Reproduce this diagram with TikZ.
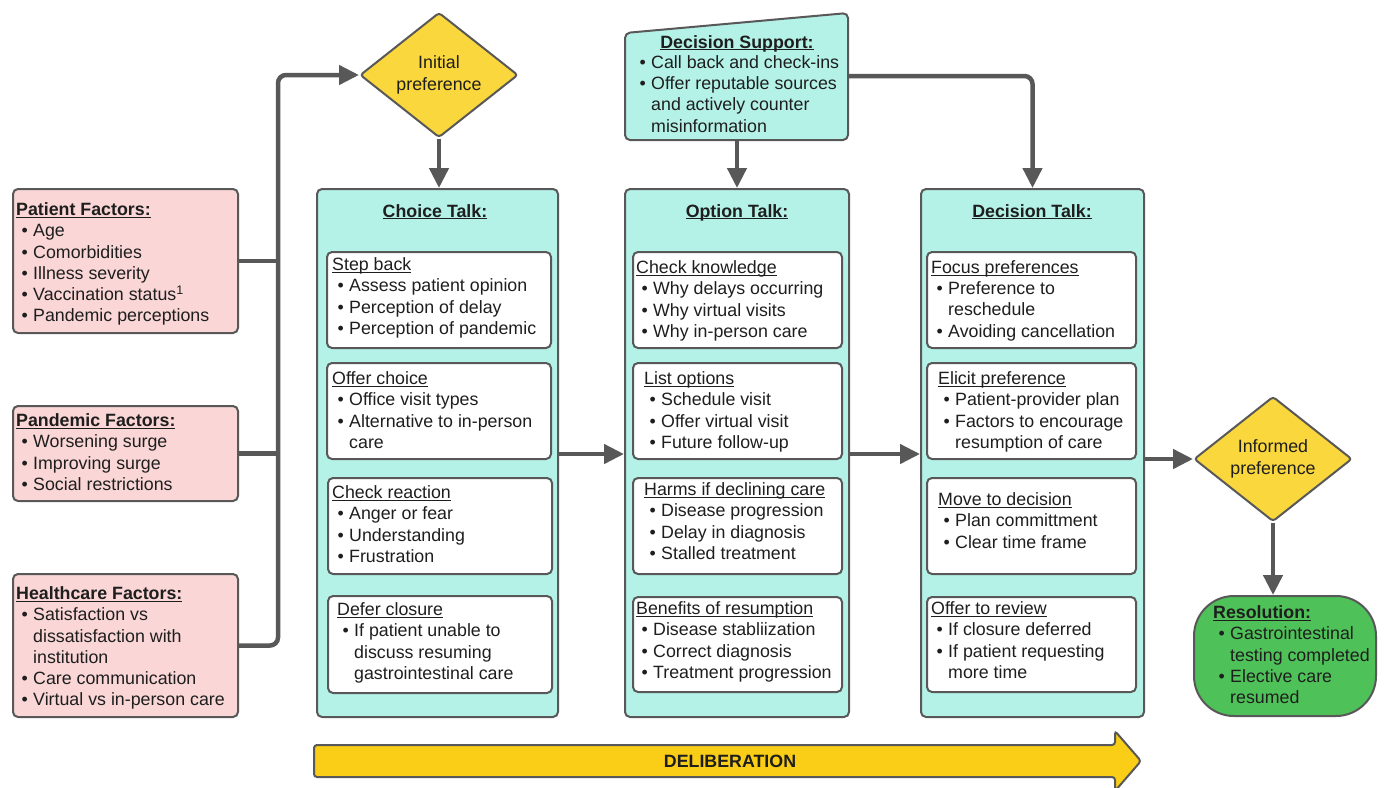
\documentclass[tikz,border=0pt]{standalone}
\usepackage{fontspec}
\setmainfont{Liberation Sans}
\usetikzlibrary{shapes.geometric,arrows.meta}
\definecolor{lc}{RGB}{88,88,88}
\definecolor{txtc}{RGB}{30,30,30}
\definecolor{pinkc}{RGB}{250,214,214}
\definecolor{cyanc}{RGB}{180,242,232}
\definecolor{yelc}{RGB}{250,215,60}
\definecolor{arrowy}{RGB}{250,205,22}
\definecolor{greenc}{RGB}{78,194,88}
\newcommand\bl{\hspace*{5.5pt}\makebox[11.5pt][l]{\textbullet}}
\newcommand\ct{\hspace*{17pt}}
\newcommand\myul[1]{\setbox0\hbox{#1}\rlap{\rule[-2.4pt]{\wd0}{1.3pt}}\box0}
\newcommand\boxnode[6]{\node[bx,#6,minimum width={#4-#2},minimum height={#5-#3}] (#1) at (#2,#3) {};}
\begin{document}
\begin{tikzpicture}[x=1pt,y=-1pt,
  every node/.style={text=txtc},
  bx/.style={draw=lc, line width=2pt, rounded corners=5pt, inner sep=0pt, anchor=north west},
  txt/.style={anchor=north west, inner sep=0pt, align=left, font=\fontsize{17.8}{21.2}\selectfont},
  ttl/.style={anchor=base, inner sep=0pt, font=\fontsize{17.8}{21.2}\selectfont\bfseries},
  dia/.style={diamond, draw=lc, line width=2pt, fill=yelc, aspect=1.27, minimum width=158pt, minimum height=125pt, inner sep=0pt, align=center, rounded corners=3pt, font=\fontsize{17.8}{21.6}\selectfont},
  conn/.style={draw=lc, line width=4.5pt},
  arr/.style={conn, -{Triangle[length=20pt,width=19pt]}},
  ]
\useasboundingbox (0,0) rectangle (1386,787);

% left factor boxes
\boxnode{pf}{12}{188}{237}{332}{fill=pinkc}
\boxnode{pandf}{12}{405}{237}{500}{fill=pinkc}
\boxnode{hf}{12}{573}{237}{716}{fill=pinkc}
\node[txt] (pft) at (16,202.5) {\myul{\textbf{Patient Factors:}}\\ \bl Age\\ \bl Comorbidities\\ \bl Illness severity\\ \bl Vaccination status\textsuperscript{1}\\ \bl Pandemic perceptions};
\node[txt] (pandft) at (16,413.5) {\myul{\textbf{Pandemic Factors:}}\\ \bl Worsening surge\\ \bl Improving surge\\ \bl Social restrictions};
\node[txt] (hft) at (16,586.5) {\myul{\textbf{Healthcare Factors:}}\\ \bl Satisfaction vs\\ \ct dissatisfaction with\\ \ct institution\\ \bl Care communication\\ \bl Virtual vs in-person care};

% big columns
\boxnode{choice}{316}{188}{557}{716}{fill=cyanc}
\boxnode{opt}{624}{188}{848}{716}{fill=cyanc}
\boxnode{dec}{920}{188}{1143}{716}{fill=cyanc}
\node[ttl] (chT) at (435,217) {\myul{Choice Talk:}};
\node[ttl] (opT) at (737,217) {\myul{Option Talk:}};
\node[ttl] (deT) at (1032,217) {\myul{Decision Talk:}};

% choice inner
\boxnode{cA}{326}{251}{550}{347}{fill=white}
\boxnode{cB}{326}{362}{550}{458}{fill=white}
\boxnode{cC}{327}{477}{551}{573}{fill=white}
\boxnode{cD}{327}{595}{551}{692}{fill=white}
\node[txt] (cAt) at (332,257.5) {\myul{Step back}\\ \bl Assess patient opinion\\ \bl Perception of delay\\ \bl Perception of pandemic};
\node[txt] (cBt) at (332,371.5) {\myul{Offer choice}\\ \bl Office visit types\\ \bl Alternative to in-person\\ \ct care};
\node[txt] (cCt) at (332,485.5) {\myul{Check reaction}\\ \bl Anger or fear\\ \bl Understanding\\ \bl Frustration};
\node[txt] (cDt) at (337,602.5) {\myul{Defer closure}\\ \bl If patient unable to\\ \ct discuss resuming\\ \ct gastrointestinal care};

% option inner
\boxnode{oA}{632}{251}{841}{347}{fill=white}
\boxnode{oB}{632}{362}{841}{458}{fill=white}
\boxnode{oC}{632}{477}{841}{573}{fill=white}
\boxnode{oD}{632}{596}{841}{691}{fill=white}
\node[txt] (oAt) at (636,260.5) {\myul{Check knowledge}\\ \bl Why delays occurring\\ \bl Why virtual visits\\ \bl Why in-person care};
\node[txt] (oBt) at (644,371.5) {\myul{List options}\\ \bl Schedule visit\\ \bl Offer virtual visit\\ \bl Future follow-up};
\node[txt] (oCt) at (644,482.5) {\myul{Harms if declining care}\\ \bl Disease progression\\ \bl Delay in diagnosis\\ \bl Stalled treatment};
\node[txt] (oDt) at (636,601.5) {\myul{Benefits of resumption}\\ \bl Disease stabliization\\ \bl Correct diagnosis\\ \bl Treatment progression};

% decision inner
\boxnode{dA}{926}{251}{1135}{347}{fill=white}
\boxnode{dB}{926}{362}{1135}{458}{fill=white}
\boxnode{dC}{926}{477}{1135}{573}{fill=white}
\boxnode{dD}{926}{596}{1135}{691}{fill=white}
\node[txt] (dAt) at (931,260.5) {\myul{Focus preferences}\\ \bl Preference to\\ \ct reschedule\\ \bl Avoiding cancellation};
\node[txt] (dBt) at (938,371.5) {\myul{Elicit preference}\\ \bl Patient-provider plan\\ \bl Factors to encourage\\ \ct resumption of care};
\node[txt] (dCt) at (938,492.5) {\myul{Move to decision}\\ \bl Plan committment\\ \bl Clear time frame};
\node[txt] (dDt) at (931,601.5) {\myul{Offer to review}\\ \bl If closure deferred\\ \bl If patient requesting\\ \ct more time};

% decision support
\filldraw[fill=cyanc, draw=lc, line width=2pt, rounded corners=5pt] (625,33) -- (848,13) -- (848,140) -- (625,140) -- cycle;
\coordinate (dsb) at (737,140);
\coordinate (dsr) at (848,76);
\node[ttl] (dsT) at (737,48) {\myul{Decision Support:}};
\node[txt] (dsL) at (634,55.5) {\bl Call back and check-ins\\ \bl Offer reputable sources\\ \ct and actively counter\\ \ct misinformation};

% diamonds
\node[dia] (ip) at (439,75) {Initial\\preference};
\node[dia] (ifp) at (1273,459) {Informed\\preference};

% resolution
\boxnode{res}{1193}{595}{1375}{715}{fill=greenc, rounded corners=40pt}
\node[txt] (rest) at (1213,605.5) {\myul{\textbf{Resolution:}}\\ \bl Gastrointestinal\\ \ct testing completed\\ \bl Elective care\\ \ct resumed};

% deliberation arrow
\filldraw[fill=arrowy, draw=lc, line width=2pt, rounded corners=3pt] (314,745) -- (1115,745) -- (1115,731) -- (1141,761) -- (1115,791) -- (1115,777) -- (314,777) -- cycle;
\node[ttl, anchor=center] (delib) at (730,761) {DELIBERATION};

% connectors
\coordinate (bus) at (278,0);
\coordinate (mid) at (0,454);
\draw[conn] (pf.east) -- (pf.east -| bus);
\draw[conn] (pandf.east) -- (pandf.east -| bus);
\draw[arr, rounded corners=8pt] (hf.east) -- (hf.east -| bus) -- (bus |- ip.west) -- (ip.west);
\draw[arr] (ip.south) -- (ip.south |- choice.north);
\draw[arr] (dsb) -- (dsb |- opt.north);
\draw[arr, rounded corners=8pt] (dsr) -| (dec.north);
\draw[arr] (choice.east |- mid) -- (opt.west |- mid);
\draw[arr] (opt.east |- mid) -- (dec.west |- mid);
\draw[arr] (dec.east |- ifp.west) -- (ifp.west);
\draw[arr] (ifp.south) -- (ifp.south |- res.north);
\end{tikzpicture}
\end{document}
